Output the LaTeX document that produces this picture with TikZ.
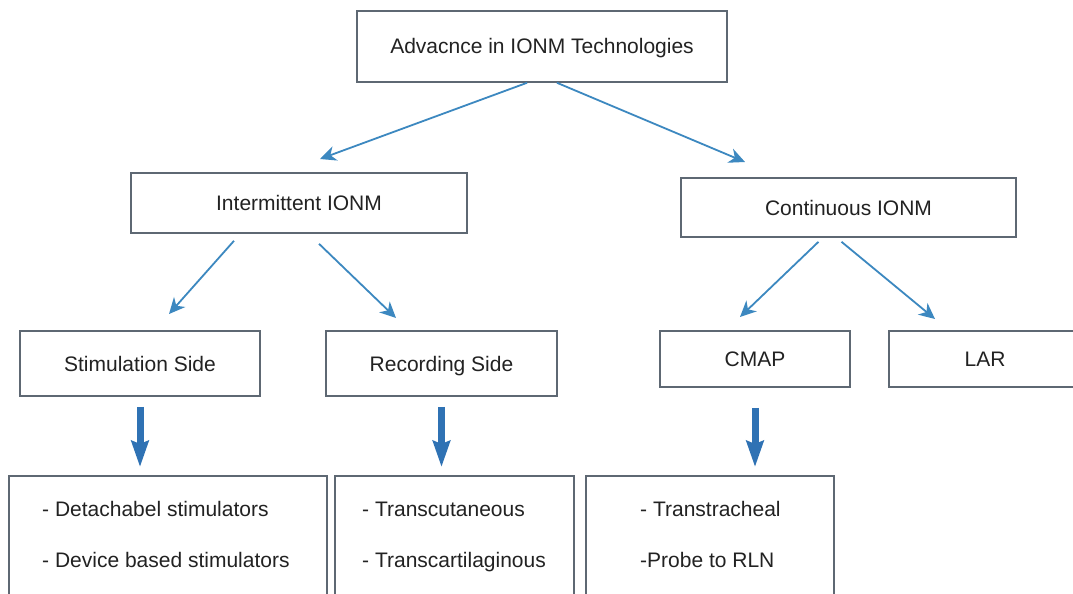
\documentclass[tikz,border=0pt]{standalone}
\usepackage{fontspec}
\setmainfont{Liberation Sans}
\usetikzlibrary{arrows.meta}
\definecolor{boxgray}{HTML}{5E6873}
\definecolor{arrblue}{HTML}{3C88C0}
\definecolor{thickblue}{HTML}{2F72B4}
\definecolor{txt}{HTML}{222222}
\tikzset{
  box/.style={draw=boxgray, line width=1.6pt, rectangle, inner sep=0pt,
    text=txt, font=\fontsize{21}{25}\selectfont, text height=15pt, text depth=0pt},
  bigbox/.style={draw=boxgray, line width=1.6pt, rectangle, inner sep=0pt, anchor=north west},
  line/.style={text=txt, font=\fontsize{21}{25}\selectfont, anchor=base west, inner sep=0pt},
  conn/.style={draw=arrblue, line width=1.8pt, -{Stealth[length=16pt,width=15pt,inset=5pt]}},
  thick/.style={draw=thickblue, line width=7pt, -{Stealth[length=26pt,width=17pt,inset=3pt]},
    shorten <=10pt, shorten >=8pt}
}
\begin{document}
\begin{tikzpicture}[x=1pt,y=-1pt]
\useasboundingbox (0,0) rectangle (1073,594);
\fill[white] (0,0) rectangle (1073,594);
\clip (0,0) rectangle (1073,594);

\node[box, minimum width=370pt, minimum height=71pt] (top) at (542,46.5) {Advacnce in IONM Technologies};
\node[box, minimum width=336pt, minimum height=60pt] (inter) at (299,203) {Intermittent IONM};
\node[box, minimum width=335pt, minimum height=59pt] (cont) at (848.5,207.5) {Continuous IONM};
\node[box, minimum width=240pt, minimum height=65pt] (stim) at (140,363.5) {Stimulation Side};
\node[box, minimum width=231pt, minimum height=65pt] (rec) at (441.5,363.5) {Recording Side};
\node[box, minimum width=190pt, minimum height=56pt] (cmap) at (755,359) {CMAP};
\node[box, minimum width=192pt, minimum height=56pt] (lar) at (985,359) {LAR};

\node[bigbox, minimum width=318pt, minimum height=160pt] (b1) at (8,475) {};
\node[bigbox, minimum width=239pt, minimum height=160pt] (b2) at (334,475) {};
\node[bigbox, minimum width=248pt, minimum height=160pt] (b3) at (585,475) {};

\node[line] (b1a) at (42,516.5) {- Detachabel stimulators};
\node[line] (b1b) at (42,567.5) {- Device based stimulators};
\node[line] (b2a) at (362,516.5) {- Transcutaneous};
\node[line] (b2b) at (362,567.5) {- Transcartilaginous};
\node[line] (b3a) at (640,516.5) {- Transtracheal};
\node[line] (b3b) at (640,567.5) {-Probe to RLN};

\coordinate (e1) at (320,159);
\coordinate (e2) at (745,162);
\coordinate (e3) at (169,314);
\coordinate (e4) at (396,318);
\coordinate (e5) at (740,317);
\coordinate (e6) at (935,319);

\draw[conn] ([xshift=-15pt]top.south) -- (e1);
\draw[conn] ([xshift=15pt]top.south) -- (e2);
\draw[conn] ([xshift=-65pt,yshift=-7pt]inter.south) -- (e3);
\draw[conn] ([xshift=20pt,yshift=-10pt]inter.south) -- (e4);
\draw[conn] ([xshift=-30pt,yshift=-4pt]cont.south) -- (e5);
\draw[conn] ([xshift=-7pt,yshift=-4pt]cont.south) -- (e6);

\draw[thick] (stim.south) -- (stim.south |- b1.north);
\draw[thick] (rec.south) -- (rec.south |- b2.north);
\draw[thick] (cmap.south) ++(0,10) -- (cmap.south |- b3.north);
\end{tikzpicture}
\end{document}
